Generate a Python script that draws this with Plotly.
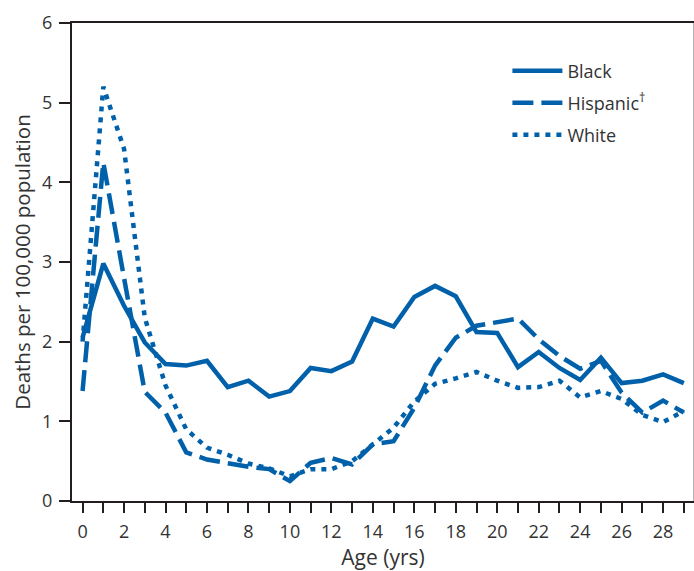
import plotly.graph_objects as go

ages = list(range(0, 30))
black = [2.05, 2.98, 2.45, 1.99, 1.72, 1.70, 1.76, 1.43, 1.51, 1.31, 1.38, 1.67, 1.63, 1.75,
         2.29, 2.19, 2.56, 2.70, 2.57, 2.12, 2.11, 1.68, 1.87, 1.67, 1.52, 1.80, 1.48, 1.51,
         1.59, 1.48]
hispanic = [1.38, 4.25, 2.80, 1.37, 1.11, 0.61, 0.52, 0.47, 0.43, 0.40, 0.25, 0.48, 0.54, 0.46,
            0.71, 0.75, 1.17, 1.70, 2.05, 2.20, 2.25, 2.29, 2.03, 1.82, 1.66, 1.76, 1.36, 1.11,
            1.26, 1.11]
white = [2.00, 5.20, 4.42, 2.30, 1.45, 0.90, 0.67, 0.58, 0.47, 0.41, 0.31, 0.40, 0.40, 0.50,
         0.71, 0.92, 1.25, 1.47, 1.54, 1.62, 1.51, 1.42, 1.43, 1.51, 1.30, 1.38, 1.28, 1.08,
         0.99, 1.13]
y_ticks = [0, 1, 2, 3, 4, 5, 6]
x_ticks = list(range(0, 30, 2))

BLUE = "#0061AA"
AX = "#231F20"
TXT = "#333333"
FONT = "Open Sans"

fig = go.Figure()
fig.add_trace(go.Scatter(x=ages, y=black, mode="lines", name="Black", legendgroup="a",
                         line=dict(color=BLUE, width=4.5)))
fig.add_trace(go.Scatter(x=ages, y=hispanic, mode="lines", name="Hispanic<sup>†</sup>",
                         legendgroup="b", line=dict(color=BLUE, width=4.5, dash="21px,8px")))
fig.add_trace(go.Scatter(x=ages, y=white, mode="lines", name="White", legendgroup="c",
                         line=dict(color=BLUE, width=4.5, dash="5px,6px")))

fig.update_layout(
    width=694, height=571,
    margin=dict(l=72, r=0, t=23, b=70),
    paper_bgcolor="white", plot_bgcolor="white",
    font=dict(family=FONT, size=18, color=TXT),
    showlegend=True,
    legend=dict(x=0.70, y=0.938, xanchor="left", yanchor="top", bgcolor="rgba(0,0,0,0)",
                font=dict(family=FONT, size=18, color=TXT), tracegroupgap=5.5,
                itemwidth=50),
    xaxis=dict(range=[-0.51, 29.49], tickmode="array", tickvals=x_ticks,
               showline=True, linecolor=AX, linewidth=2, mirror=True,
               ticks="outside", ticklen=10, tickwidth=2, tickcolor=AX,
               minor=dict(tickmode="linear", tick0=1, dtick=2, ticks="outside", ticklen=10,
                          tickwidth=2, tickcolor=AX, showgrid=False),
               showgrid=False, zeroline=False, automargin=False,
               ticklabelstandoff=3,
               tickfont=dict(family=FONT, size=18, color=TXT),
               title=dict(text="Age (yrs)", font=dict(family=FONT, size=21, color=TXT), standoff=13)),
    yaxis=dict(range=[0, 6], tickvals=y_ticks,
               showline=True, linecolor=AX, linewidth=2,
               ticks="outside", ticklen=11, tickwidth=2, tickcolor=AX,
               showgrid=False, zeroline=False, automargin=False,
               ticklabelstandoff=3,
               tickfont=dict(family=FONT, size=18, color=TXT),
               title=dict(text="Deaths per 100,000 population",
                          font=dict(family=FONT, size=20.5, color=TXT), standoff=6)),
    shapes=[dict(type="line", xref="paper", yref="paper", x0=1, x1=1, y0=0, y1=1,
                 line=dict(color="#9a9a9a", width=1.5))],
)

fig.write_html("out.html", config={"displayModeBar": False},
               post_script="document.body.style.margin='0';")
